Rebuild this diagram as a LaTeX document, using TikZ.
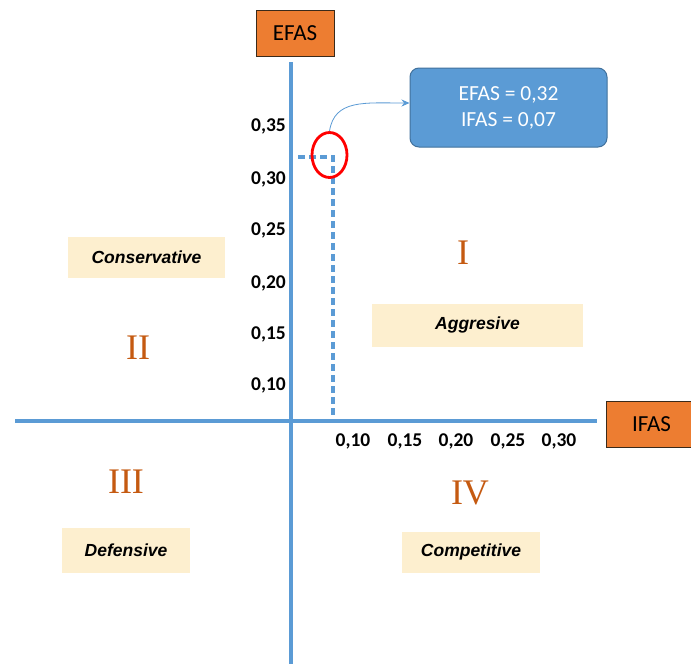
\documentclass[tikz,border=0pt]{standalone}
\usepackage{fontspec}
\usetikzlibrary{shapes.geometric,arrows.meta}
\newfontfamily\calfont{Carlito}
\newfontfamily\arialfont{Liberation Sans}
\newfontfamily\serfont{Liberation Serif}
\definecolor{axblue}{HTML}{5B9BD5}
\definecolor{boxblue}{HTML}{5B9BD5}
\definecolor{boxedge}{HTML}{41719C}
\definecolor{orng}{HTML}{ED7D31}
\definecolor{orngedge}{HTML}{3A2A1A}
\definecolor{beige}{HTML}{FDEFCF}
\definecolor{roman}{HTML}{C55A11}
\tikzset{
  axis/.style={draw=axblue,line width=3.5pt},
  guide/.style={draw=axblue,line width=3.2pt,dash pattern=on 7pt off 4pt},
  tick/.style={font=\calfont\bfseries\fontsize{19.5}{21}\selectfont,inner sep=0pt},
  axlabel/.style={draw=orngedge,fill=orng,line width=1pt,font=\calfont\fontsize{23}{26}\selectfont,inner sep=0pt},
  quad/.style={fill=beige,font=\arialfont\bfseries\itshape\fontsize{17.5}{20}\selectfont,inner sep=0pt},
  numeral/.style={text=roman,font=\serfont\fontsize{36}{40}\selectfont,inner sep=0pt},
}
\begin{document}
\begin{tikzpicture}[x=1pt,y=-1pt]
\useasboundingbox (0,0) rectangle (691,664);
\fill[white] (0,0) rectangle (691,664);
% axes
\coordinate (ytop) at (291,62);
\coordinate (ybot) at (291,664);
\coordinate (xl) at (15,421);
\coordinate (xr) at (597,421);
\draw[axis] (ytop) -- (ybot);
\draw[axis] (xl) -- (xr);
% axis labels
\node[axlabel,minimum width=78pt,minimum height=46pt] (efas) at (295,33) {EFAS};
\node[axlabel,minimum width=90pt,minimum height=46pt,anchor=west] (ifas) at (606,424) {IFAS};
% guide lines
\coordinate (gs) at (298,157);
\coordinate (gc) at (333,157);
\coordinate (ge) at (333,421);
\draw[guide] (gs) -- (gc) -- (ge);
% red ellipse
\node[ellipse,draw=red,line width=2.8pt,minimum width=35pt,minimum height=45pt,inner sep=0pt] (circ) at (329.5,155) {};
% info box
\node[draw=boxedge,fill=boxblue,line width=1pt,rounded corners=9pt,minimum width=197pt,minimum height=79pt,
      text=white,font=\calfont\fontsize{21.5}{26}\selectfont,align=center] (info) at (508.5,107.5) {EFAS = 0,32\\IFAS = 0,07};
\draw[draw=axblue,line width=0.8pt,-{Stealth[length=8pt,width=7pt]}] (circ.north) .. controls +(5,-32) and +(-45,0) .. (info.west |- 0,103);
% y ticks
\node[tick,anchor=east] (y35) at (286,126) {0,35};
\node[tick,anchor=east] (y30) at (286,179) {0,30};
\node[tick,anchor=east] (y25) at (286,230) {0,25};
\node[tick,anchor=east] (y20) at (286,283) {0,20};
\node[tick,anchor=east] (y15) at (286,334) {0,15};
\node[tick,anchor=east] (y10) at (286,385) {0,10};
% x ticks
\node[tick] (x10) at (353,441) {0,10};
\node[tick] (x15) at (405,441) {0,15};
\node[tick] (x20) at (456,441) {0,20};
\node[tick] (x25) at (508,441) {0,25};
\node[tick] (x30) at (559,441) {0,30};
% quadrant labels
\node[quad,minimum width=157pt,minimum height=41pt] (cons) at (146.5,257) {Conservative};
\node[quad,minimum width=211pt,minimum height=43pt] (aggr) at (477.5,325) {Aggresive};
\node[quad,minimum width=128pt,minimum height=45pt] (def) at (126,550) {Defensive};
\node[quad,minimum width=138pt,minimum height=41pt] (comp) at (471,552) {Competitive};
% numerals
\node[numeral] (nI) at (463,253) {I};
\node[numeral] (nII) at (138,348) {II};
\node[numeral] (nIII) at (126,482) {III};
\node[numeral] (nIV) at (470,493) {IV};
\end{tikzpicture}
\end{document}
